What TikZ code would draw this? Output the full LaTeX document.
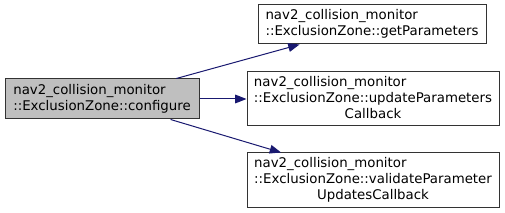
\documentclass[tikz,border=0pt]{standalone}
\usepackage{fontspec}
\setmainfont{DejaVu Sans}
\usetikzlibrary{arrows.meta}
\definecolor{edgeblue}{HTML}{191970}
\definecolor{nodegrey}{HTML}{BFBFBF}
\newcommand{\lastln}[1]{\multicolumn{1}{@{}c@{}}{#1}}

\begin{document}
\begin{tikzpicture}[x=0.75pt,y=-0.75pt,
  fn/.style={draw=black!80,line width=0.75pt,fill=white,inner sep=0pt,font=\fontsize{10}{12}\selectfont},
  call/.style={-{Triangle[length=8.5pt,width=6.5pt]},edgeblue,line width=0.75pt}]
\useasboundingbox (0,0) rectangle (505,213);
\node[fn,fill=nodegrey,minimum width=145.5pt,minimum height=30pt] (conf) at (102,99)
  {\begin{tabular}{@{}l@{}}nav2\_collision\_monitor\\::ExclusionZone::configure\end{tabular}};
\node[fn,minimum width=171pt,minimum height=29.25pt] (getp) at (372,24.5)
  {\begin{tabular}{@{}l@{}}nav2\_collision\_monitor\\::ExclusionZone::getParameters\end{tabular}};
\node[fn,minimum width=189pt,minimum height=40.5pt] (updp) at (373,99)
  {\begin{tabular}{@{}l@{}}nav2\_collision\_monitor\\::ExclusionZone::updateParameters\\\lastln{Callback}\end{tabular}};
\node[fn,minimum width=189pt,minimum height=40.5pt] (valp) at (373,180)
  {\begin{tabular}{@{}l@{}}nav2\_collision\_monitor\\::ExclusionZone::validateParameter\\\lastln{UpdatesCallback}\end{tabular}};
\foreach \b in {getp,updp,valp}{\draw[call] (conf)--(\b);}
\end{tikzpicture}
\end{document}
